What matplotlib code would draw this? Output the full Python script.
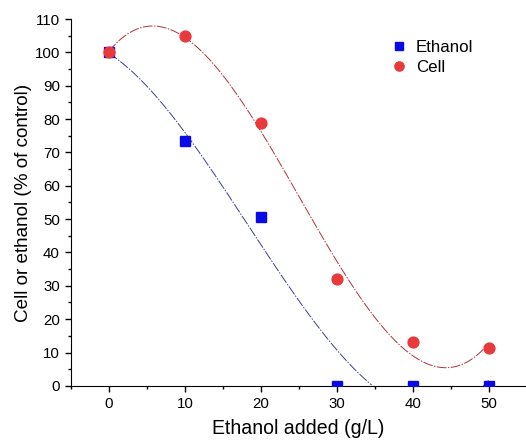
import numpy as np
import matplotlib.pyplot as plt
from matplotlib.ticker import MultipleLocator

plt.rcParams['font.family'] = ['Liberation Sans', 'DejaVu Sans']

# data
ethanol_added = [0, 10, 20, 30, 40, 50]
ethanol_pct = [100, 73.3, 50.5, 0, 0, 0]
cell_pct = [100, 104.8, 78.8, 32.0, 13.3, 11.5]


def cubic_fit(x, y):
    coef = np.polyfit(x, y, 3)
    xs = np.linspace(min(x), max(x), 300)
    return xs, np.polyval(coef, xs)


def fit_size(fig, txt, target, vertical=False):
    # scale font so the text spans roughly `target` pixels
    r = fig.canvas.get_renderer()
    bb = txt.get_window_extent(r)
    cur = bb.height if vertical else bb.width
    txt.set_fontsize(txt.get_fontsize() * target / cur)


fig = plt.figure(figsize=(5.26, 4.43), dpi=100)
ax = fig.add_axes([0.135, 0.129, 0.863, 0.828])

xe, ye = cubic_fit(ethanol_added, ethanol_pct)
ye = np.where(ye < 0, np.nan, ye)
xc, yc = cubic_fit(ethanol_added, cell_pct)
dash = (0, (10, 1.5, 1.5, 1.5))
ax.plot(xe, ye, color='#3a3f8f', lw=0.7, ls=dash)
ax.plot(xc, yc, color='#b0303a', lw=0.7, ls=dash)

ax.plot(ethanol_added, ethanol_pct, 's', color='#0a0ae6', ms=6.5, label='Ethanol',
        zorder=3)
ax.plot(ethanol_added, cell_pct, 'o', color='#e8393c', ms=7.8, label='Cell',
        clip_on=False, zorder=4)

ax.set_xlim(-5, 54.8)
ax.set_ylim(0, 110)
ax.xaxis.set_major_locator(MultipleLocator(10))
ax.xaxis.set_minor_locator(MultipleLocator(5))
ax.yaxis.set_major_locator(MultipleLocator(10))
ax.yaxis.set_minor_locator(MultipleLocator(5))
ax.tick_params(which='major', length=4.5, width=1, labelsize=10.8, direction='out')
ax.tick_params(which='minor', length=2.5, width=1, direction='out')
ax.spines['top'].set_visible(False)
ax.spines['right'].set_visible(False)

xl = ax.set_xlabel('Ethanol added (g/L)', fontsize=13, labelpad=6)
yl = ax.set_ylabel('Cell or ethanol (% of control)', fontsize=12, labelpad=2)

leg = ax.legend(loc='upper left', bbox_to_anchor=(0.672, 0.985), frameon=False,
                fontsize=12, handletextpad=0.5, labelspacing=0.3, handlelength=1.0,
                markerscale=0.85)

fig.canvas.draw()
fit_size(fig, xl, 172)
fit_size(fig, yl, 240, vertical=True)
for t in leg.get_texts():
    t.set_fontsize(12.2)

fig.savefig('out.png', dpi=100)
